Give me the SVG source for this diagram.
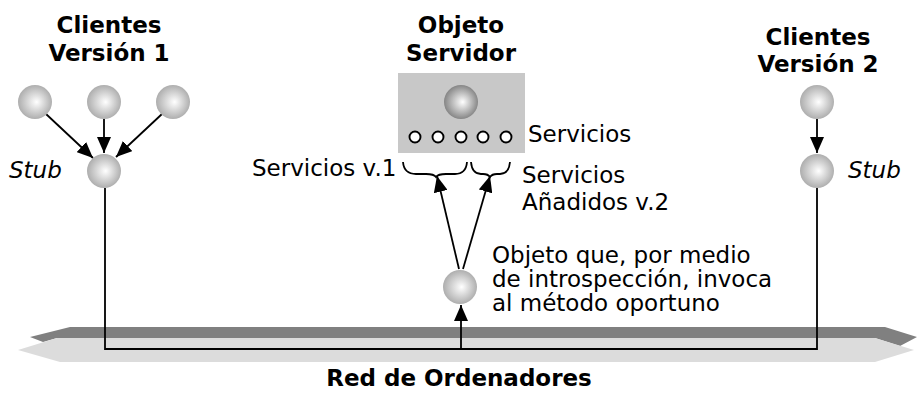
<svg xmlns="http://www.w3.org/2000/svg" width="917" height="394" viewBox="0 0 917 394">
<defs>
<radialGradient id="sph" cx="0.5" cy="0.5" r="0.55" fx="0.55" fy="0.5">
<stop offset="0" stop-color="#ffffff"/>
<stop offset="1" stop-color="#a6a6a6"/>
</radialGradient>
<radialGradient id="sphDark" cx="0.5" cy="0.5" r="0.55" fx="0.55" fy="0.5">
<stop offset="0" stop-color="#ffffff"/>
<stop offset="1" stop-color="#7a7a7a"/>
</radialGradient>
<marker id="arr" viewBox="0 0 16 14" refX="16" refY="7" markerWidth="16" markerHeight="14" markerUnits="userSpaceOnUse" orient="auto">
<path d="M0,0 L16,7 L0,14 z" fill="#000"/>
</marker>
</defs>
<style>
.t{font-family:"DejaVu Sans",Verdana,sans-serif;font-size:23px;fill:#000}
.b{font-family:"DejaVu Sans",Verdana,sans-serif;font-size:23px;font-weight:bold;fill:#000;text-anchor:middle}
.i{font-style:italic}
.ln{stroke:#000;stroke-width:1.8;fill:none}
.sp{fill:url(#sph)}
.sc{fill:#fff;stroke:#000;stroke-width:1.9}
</style>

<g id="red">
<polygon points="70,327 885,327 917,337 900,346 875,338 57,338 43,342 30,337" fill="#808080"/>
<polygon points="57,338 875,338 914,350 875,362 60,362 18,350" fill="#dcdcdc"/>
<text class="b" x="459" y="386">Red de Ordenadores</text>
</g>

<g id="connectors">
<path class="ln" d="M105,188 V349 H817 V188"/>
<path class="ln" d="M461,349 V305" marker-end="url(#arr)"/>
<path class="ln" d="M46,114 L93,158" marker-end="url(#arr)"/>
<path class="ln" d="M104,119 V153" marker-end="url(#arr)"/>
<path class="ln" d="M162,114 L116,157" marker-end="url(#arr)"/>
<path class="ln" d="M817,119 V153" marker-end="url(#arr)"/>
<path class="ln" d="M459,269 L437,176" marker-end="url(#arr)"/>
<path class="ln" d="M463,269 L490,176" marker-end="url(#arr)"/>
</g>

<g id="clientes-v1">
<text class="b" x="109" y="33">Clientes</text>
<text class="b" x="109" y="61">Versión 1</text>
<circle class="sp" cx="35" cy="102" r="17"/>
<circle class="sp" cx="104" cy="102" r="17"/>
<circle class="sp" cx="173" cy="102" r="17"/>
</g>

<g id="stub-v1">
<circle class="sp" cx="104" cy="171" r="17"/>
<text class="t i" x="9" y="178">Stub</text>
</g>

<g id="objeto-servidor">
<text class="b" x="461" y="33">Objeto</text>
<text class="b" x="461" y="61">Servidor</text>
<rect x="398" y="73" width="127" height="80" fill="#c8c8c8"/>
<circle cx="461" cy="102" r="17" fill="url(#sphDark)"/>
<circle class="sc" cx="415" cy="137" r="5.5"/>
<circle class="sc" cx="438" cy="137" r="5.5"/>
<circle class="sc" cx="461" cy="137" r="5.5"/>
<circle class="sc" cx="483" cy="137" r="5.5"/>
<circle class="sc" cx="506" cy="137" r="5.5"/>
<text class="t" x="528" y="142">Servicios</text>
</g>

<g id="servicios-v1">
<path class="ln" d="M403,162 Q404,174 416,174 L426,174 Q434,174 436,177 Q438,174 446,174 L455,174 Q466,174 467,162"/>
<text class="t" x="252" y="176">Servicios v.1</text>
</g>

<g id="servicios-v2">
<path class="ln" d="M471,162 Q472,174 481,174 L483,174 Q488,174 490,177 Q492,174 497,174 L500,174 Q509,174 510,162"/>
<text class="t" x="522" y="183">Servicios</text>
<text class="t" x="522" y="210">Añadidos v.2</text>
</g>

<g id="objeto-introspeccion">
<circle class="sp" cx="460" cy="287" r="17"/>
<text class="t" x="492" y="263">Objeto que, por medio</text>
<text class="t" x="492" y="287">de introspección, invoca</text>
<text class="t" x="492" y="311">al método oportuno</text>
</g>

<g id="clientes-v2">
<text class="b" x="818" y="45">Clientes</text>
<text class="b" x="818" y="72">Versión 2</text>
<circle class="sp" cx="817" cy="102" r="17"/>
</g>

<g id="stub-v2">
<circle class="sp" cx="817" cy="171" r="17"/>
<text class="t i" x="848" y="178">Stub</text>
</g>
</svg>
